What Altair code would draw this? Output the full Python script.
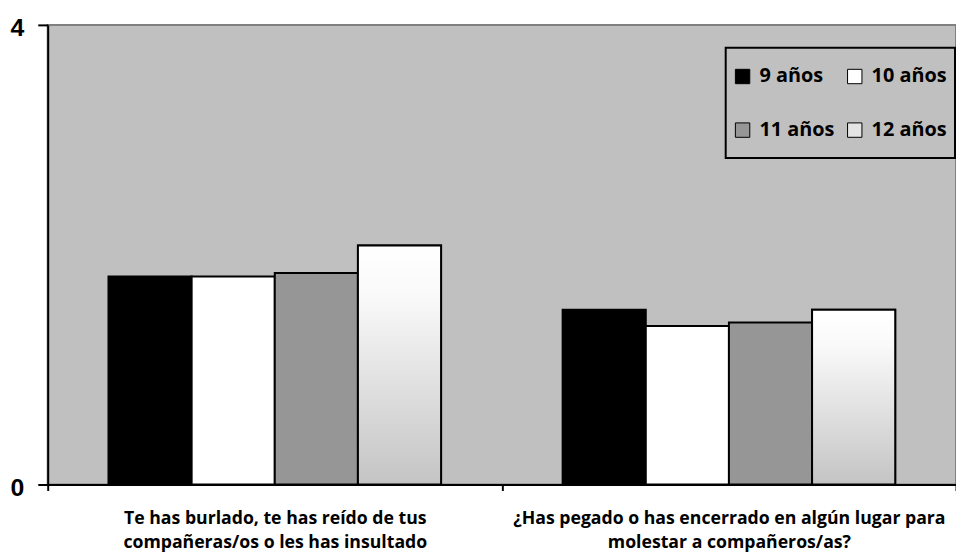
import altair as alt
import pandas as pd

categories = [
    "Te has burlado, te has reído de tus|compañeras/os o les has insultado",
    "¿Has pegado o has encerrado en algún lugar para|molestar a compañeros/as?",
]
series = ["9 años", "10 años", "11 años", "12 años"]
v9 = [1.81, 1.52]
v10 = [1.81, 1.38]
v11 = [1.84, 1.41]
v12 = [2.08, 1.52]
colors = ["#000000", "#FFFFFF", "#969696", "#E4E4E4"]

rows = []
for s, vals in zip(series, [v9, v10, v11, v12]):
    for c, v in zip(categories, vals):
        rows.append({"pregunta": c, "edad": s, "valor": v})
df = pd.DataFrame(rows)

x_enc = alt.X(
    "pregunta:N",
    sort=categories,
    scale=alt.Scale(paddingInner=0, paddingOuter=0),
    axis=alt.Axis(
        title=None,
        labelAngle=0,
        labelExpr="split(datum.label, '|')",
        labelFont="Open Sans",
        labelFontWeight="bold",
        labelFontSize=17.8,
        labelColor="#000000",
        labelLineHeight=24,
        labelPadding=19,
        tickBand="extent",
        tickSize=6,
        tickColor="#000000",
        tickWidth=2,
        domainColor="#000000",
        domainWidth=2,
        labelLimit=500,
    ),
)
xo_enc = alt.XOffset(
    "edad:N",
    sort=series,
    scale=alt.Scale(paddingInner=0, paddingOuter=0.731),
)
y_enc = alt.Y(
    "valor:Q",
    scale=alt.Scale(domain=[0, 4], nice=False),
    axis=alt.Axis(
        title=None,
        values=[0, 4],
        grid=False,
        labelFont="Liberation Sans",
        labelFontWeight="bold",
        labelFontSize=25,
        labelColor="#000000",
        labelPadding=14,
        labelOffset=3,
        tickSize=10,
        tickColor="#000000",
        tickWidth=2,
        domainColor="#000000",
        domainWidth=2,
    ),
)

legend_box = alt.Chart(pd.DataFrame({"k": [0]})).mark_rect(
    fill="#C0C0C0", stroke="#000000", strokeWidth=2
).encode(
    x=alt.value(683),
    x2=alt.value(914),
    y=alt.value(23),
    y2=alt.value(134),
)

bars = alt.Chart(df).mark_bar(stroke="#000000", strokeWidth=2).encode(
    x=x_enc,
    xOffset=xo_enc,
    y=y_enc,
    color=alt.Color(
        "edad:N",
        sort=series,
        scale=alt.Scale(domain=series, range=colors),
        legend=alt.Legend(
            title=None,
            orient="none",
            legendX=690,
            legendY=42,
            columns=2,
            direction="horizontal",
            symbolType="square",
            symbolSize=210,
            symbolStrokeColor="#000000",
            symbolStrokeWidth=1,
            symbolOpacity=1,
            labelFont="Open Sans",
            labelFontWeight="bold",
            labelFontSize=20,
            labelColor="#000000",
            labelOffset=7,
            columnPadding=10,
            rowPadding=34,
            padding=0,
        ),
    ),
)

grad = alt.Gradient(
    gradient="linear",
    x1=0, x2=0, y1=0, y2=1,
    stops=[
        alt.GradientStop(color="#FFFFFF", offset=0),
        alt.GradientStop(color="#FAFAFA", offset=0.2),
        alt.GradientStop(color="#C4C4C4", offset=1),
    ],
)

overlay = alt.Chart(df).transform_filter(
    alt.datum.edad == "12 años"
).mark_bar(fill=grad, stroke="#000000", strokeWidth=2).encode(
    x=x_enc,
    xOffset=xo_enc,
    y=y_enc,
)

chart = alt.layer(legend_box, bars, overlay).properties(
    width=915,
    height=463,
    padding={"left": 40, "top": 15, "right": 0, "bottom": 67},
    autosize=alt.AutoSizeParams(type="none"),
    background="#FFFFFF",
).configure_view(
    fill="#C0C0C0",
    stroke="#808080",
    strokeWidth=2,
)

chart.save("out.html", embed_options={"renderer": "svg", "actions": False})
